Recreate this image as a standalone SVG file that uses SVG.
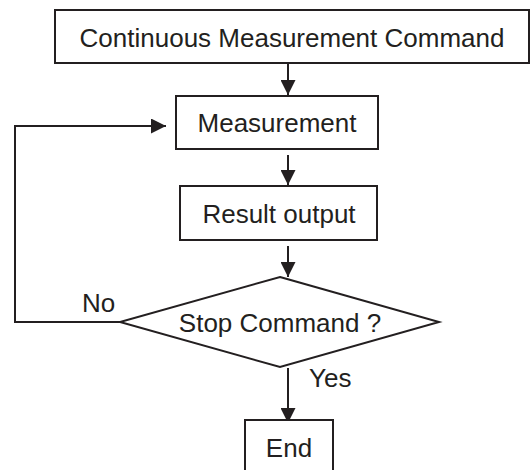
<svg xmlns="http://www.w3.org/2000/svg" width="531" height="470" viewBox="0 0 531 470">
<style>
.box{fill:#fff;stroke:#231f20;stroke-width:2}
.lbl{font-family:"Liberation Sans",Arial,sans-serif;font-size:26px;fill:#231f20}
.c{text-anchor:middle}
.ln{fill:none;stroke:#231f20;stroke-width:2}
</style>
<defs>
<marker id="ah" markerUnits="userSpaceOnUse" markerWidth="15" markerHeight="15" refX="15" refY="7.5" orient="auto" viewBox="0 0 15 15">
<path d="M0,0 L15,7.5 L0,15 z" fill="#231f20"/>
</marker>
</defs>
<rect width="531" height="470" fill="#fff"/>
<g id="connectors">
<line class="ln" x1="288" y1="63" x2="288" y2="95" marker-end="url(#ah)"/>
<line class="ln" x1="288" y1="155" x2="288" y2="185" marker-end="url(#ah)"/>
<line class="ln" x1="288" y1="246" x2="288" y2="277" marker-end="url(#ah)"/>
<line class="ln" x1="288" y1="368" x2="288" y2="423" marker-end="url(#ah)"/>
<path class="ln" d="M120,322 H15 V126 H166" marker-end="url(#ah)"/>
<text class="lbl" x="82" y="312">No</text>
<text class="lbl" x="309" y="387">Yes</text>
</g>
<g id="start">
<rect class="box" x="55" y="10" width="474" height="53"/>
<text class="lbl c" x="292" y="47">Continuous Measurement Command</text>
</g>
<g id="measurement">
<rect class="box" x="176" y="96" width="202" height="53"/>
<text class="lbl c" x="277" y="132">Measurement</text>
</g>
<g id="result">
<rect class="box" x="180" y="186" width="197" height="54"/>
<text class="lbl c" x="279" y="223">Result output</text>
</g>
<g id="decision">
<polygon class="box" points="280,277 439,322 280,367 120,322"/>
<text class="lbl c" x="280" y="332">Stop Command ?</text>
</g>
<g id="end">
<rect class="box" x="245" y="420" width="88" height="60"/>
<text class="lbl c" x="289" y="457">End</text>
</g>
</svg>
